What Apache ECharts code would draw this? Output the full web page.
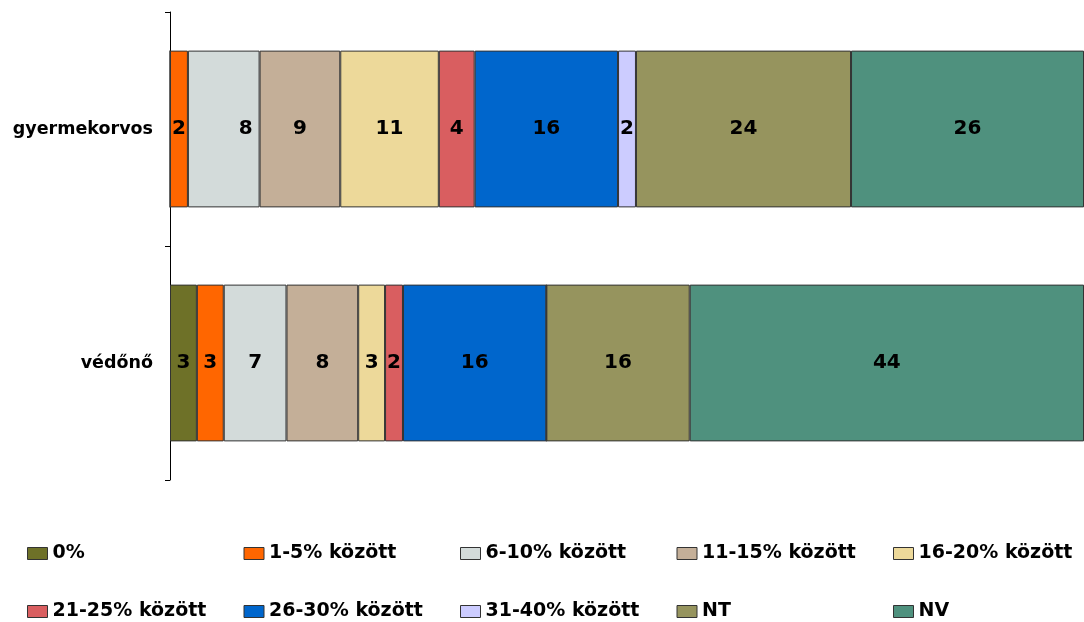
<!DOCTYPE html>
<html>
<head>
<meta charset="utf-8">
<script src="https://cdn.jsdelivr.net/npm/echarts@6/dist/echarts.min.js"></script>
<style>
  html, body { margin: 0; padding: 0; background: #fff; }
  #chart { width: 1084px; height: 622px; }
</style>
</head>
<body>
<div id="chart"></div>
<script>
// kategóriák (fentről lefelé)
var categories = ['gyermekorvos', 'védőnő'];

// sávok neve és színe
var seriesNames = ['0%', '1-5% között', '6-10% között', '11-15% között', '16-20% között',
                   '21-25% között', '26-30% között', '31-40% között', 'NT', 'NV'];
var seriesColors = ['#6E7128', '#FF6600', '#D3DBDA', '#C4AF98', '#EDD99A',
                    '#D95E60', '#0066CC', '#CCCCFF', '#96945E', '#4F917E'];

// értékek: [gyermekorvos, védőnő]
var v0 = [0, 3];
var v1_5 = [2, 3];
var v6_10 = [8, 7];
var v11_15 = [9, 8];
var v16_20 = [11, 3];
var v21_25 = [4, 2];
var v26_30 = [16, 16];
var v31_40 = [2, 0];
var vNT = [24, 16];
var vNV = [26, 44];
var values = [v0, v1_5, v6_10, v11_15, v16_20, v21_25, v26_30, v31_40, vNT, vNV];

var FONT = 'DejaVu Sans';

var chart = echarts.init(document.getElementById('chart'));

var series = seriesNames.map(function (name, i) {
    return {
        name: name,
        type: 'bar',
        stack: 'all',
        barCategoryGap: '33%',
        itemStyle: { color: seriesColors[i], borderColor: '#333', borderWidth: 1 },
        label: {
            show: true,
            position: 'inside',
            color: '#000',
            fontFamily: FONT,
            fontWeight: 'bold',
            fontSize: 20,
            formatter: function (p) { return p.value > 0 ? p.value : ''; }
        },
        data: values[i].map(function (v, j) {
            // az eredetin a 6-10% felirat a felső sávban jobbra csúszott
            if (i === 2 && j === 0) return { value: v, label: { offset: [22, 0] } };
            return v;
        })
    };
});

// legend: 5 oszlop, 2 sor
var legends = seriesNames.map(function (name, i) {
    return {
        data: [name],
        left: 27 + (i % 5) * 216.5,
        top: i < 5 ? 544 : 602,
        itemWidth: 20,
        itemHeight: 12,
        itemGap: 5,
        padding: 0,
        selectedMode: false,
        icon: 'rect',
        itemStyle: { borderColor: '#333', borderWidth: 1 },
        textStyle: { fontFamily: FONT, fontWeight: 'bold', fontSize: 19, color: '#000' }
    };
});

chart.setOption({
    animation: false,
    legend: legends,
    grid: { left: 170, right: 0, top: 12, bottom: 142 },
    xAxis: {
        type: 'value',
        min: 0,
        max: 102,
        show: false
    },
    yAxis: {
        type: 'category',
        inverse: true,
        data: categories,
        axisLine: { lineStyle: { color: '#000', width: 1 } },
        axisTick: { show: true, length: 5, lineStyle: { color: '#000' } },
        axisLabel: {
            margin: 17,
            color: '#000',
            fontFamily: FONT,
            fontWeight: 'bold',
            fontSize: 17.5
        }
    },
    series: series
});
</script>
</body>
</html>
